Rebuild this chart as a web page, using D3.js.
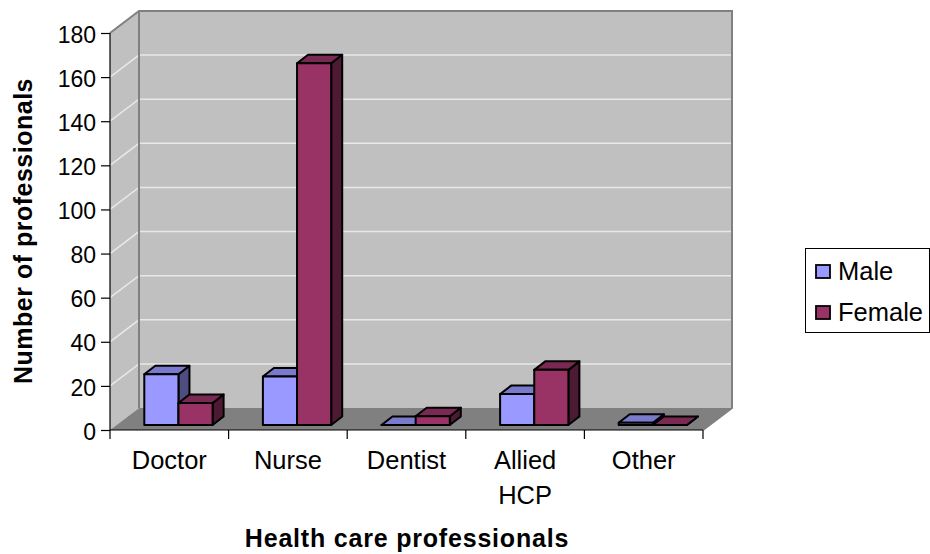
<!DOCTYPE html>
<html><head><meta charset="utf-8">
<style>html,body{margin:0;padding:0;background:#fff}svg{display:block}text{font-family:"Liberation Sans",Arial,sans-serif;fill:#000}</style>
<script src="https://cdn.jsdelivr.net/npm/d3@7"></script></head>
<body><svg id="c" width="930" height="554"></svg>
<script>
const categories=["Doctor","Nurse","Dentist","Allied HCP","Other"];
const seriesNames=["Male","Female"];
const maleValues=[23,22,0,14,1];
const femaleValues=[10,164,4,25,0];
const yTicks=[0,20,40,60,80,100,120,140,160,180];
const xTitle="Health care professionals";
const yTitle="Number of professionals";
const colors={Male:{f:"#9999ff",t:"#7a7acc",s:"#4d4d80"},Female:{f:"#993366",t:"#7a2952",s:"#4d1a33"}};

const svg=d3.select("#c");
const L=110,R=703,Y0=430,Y1=33,DX=29,DY=-22;
const y=d3.scaleLinear().domain([0,180]).range([Y0,Y1]);
const x=d3.scaleBand().domain(categories).range([L,R]).padding(0);
const inner=d3.scaleBand().domain(seriesNames).range([34.3,102.6]);
const poly=(pts,fill,stroke,sw)=>svg.append("polygon").attr("points",pts.map(p=>p.join(",")).join(" ")).attr("fill",fill).attr("stroke",stroke||"none").attr("stroke-width",sw||0).attr("stroke-linejoin","round");

// walls and floor
poly([[L,Y1],[L+DX,Y1+DY],[R+DX,Y1+DY],[R+DX,Y0+DY],[L+DX,Y0+DY],[L,Y0]],"#c0c0c0");
poly([[L,Y0],[L+DX,Y0+DY],[R+DX,Y0+DY],[R,Y0]],"#808080");
yTicks.slice(1,-1).forEach(t=>{
  svg.append("polyline").attr("points",`${L},${y(t)} ${L+DX},${y(t)+DY} ${R+DX},${y(t)+DY}`).attr("fill","none").attr("stroke","#e8e8e8").attr("stroke-width",1.5);
});
svg.append("polyline").attr("points",`${L},${Y1} ${L+DX},${Y1+DY} ${R+DX},${Y1+DY} ${R+DX},${Y0+DY} ${R},${Y0}`).attr("fill","none").attr("stroke","#808080").attr("stroke-width",2);
svg.append("line").attr("x1",L+DX).attr("x2",L+DX).attr("y1",Y1+DY).attr("y2",Y0+DY).attr("stroke","#808080").attr("stroke-width",2);

// bars
const bdx=11,bdy=-8.5,baseY=425;
const data=categories.map((c,i)=>({c,vals:[{s:"Male",v:maleValues[i]},{s:"Female",v:femaleValues[i]}]}));
data.forEach(d=>{
  d.vals.forEach(b=>{
    const x0=x(d.c)+inner(b.s),x1=x0+inner.bandwidth();
    const top=baseY-(Y0-y(b.v));
    const col=colors[b.s];
    poly([[x1,top],[x1+bdx,top+bdy],[x1+bdx,baseY+bdy],[x1,baseY]],col.s,"#000",2);
    poly([[x0,top],[x0+bdx,top+bdy],[x1+bdx,top+bdy],[x1,top]],col.t,"#000",2);
    poly([[x0,top],[x1,top],[x1,baseY],[x0,baseY]],col.f,"#000",2);
  });
});

// axes
const gy=svg.append("g").attr("transform",`translate(${L},0)`).call(d3.axisLeft(y).tickValues(yTicks).tickSize(9).tickPadding(5));
gy.selectAll("text").style("font-size","23px").attr("dy","0.4em");
gy.selectAll("line,path").attr("stroke","#000").attr("stroke-width",1.2);
gy.select("path").attr("d",`M0,${Y1}V${Y0}`);
const gx=svg.append("g").attr("transform",`translate(0,${Y0})`);
gx.append("line").attr("x1",L).attr("x2",R).attr("stroke","#000").attr("stroke-width",1.2);
d3.range(categories.length+1).forEach(i=>{
  const px=L+i*x.step();
  gx.append("line").attr("x1",px).attr("x2",px).attr("y2",9).attr("stroke","#000").attr("stroke-width",1.2);
});
categories.forEach(c=>{
  const words=c.split(" ");
  const t=gx.append("text").attr("text-anchor","middle").style("font-size","25.5px");
  words.forEach((w,i)=>t.append("tspan").attr("x",x(c)+x.bandwidth()/2).attr("y",39+i*35).text(w));
});

// titles
svg.append("text").attr("x",407).attr("y",547).attr("text-anchor","middle").style("font-size","25px").style("font-weight","bold").style("letter-spacing","0.8px").text(xTitle);
svg.append("text").attr("transform","translate(32,231) rotate(-90)").attr("text-anchor","middle").style("font-size","25px").style("font-weight","bold").style("letter-spacing","0.5px").text(yTitle);

// legend
svg.append("rect").attr("x",805.5).attr("y",248.5).attr("width",124).attr("height",84).attr("fill","#fff").attr("stroke","#000").attr("stroke-width",1);
seriesNames.forEach((s,i)=>{
  const yy=271+i*41;
  svg.append("rect").attr("x",816).attr("y",yy-6).attr("width",14).attr("height",13).attr("fill",colors[s].f).attr("stroke","#000").attr("stroke-width",1.8);
  svg.append("text").attr("x",838).attr("y",yy+9).style("font-size","25.5px").text(s);
});
</script></body></html>
